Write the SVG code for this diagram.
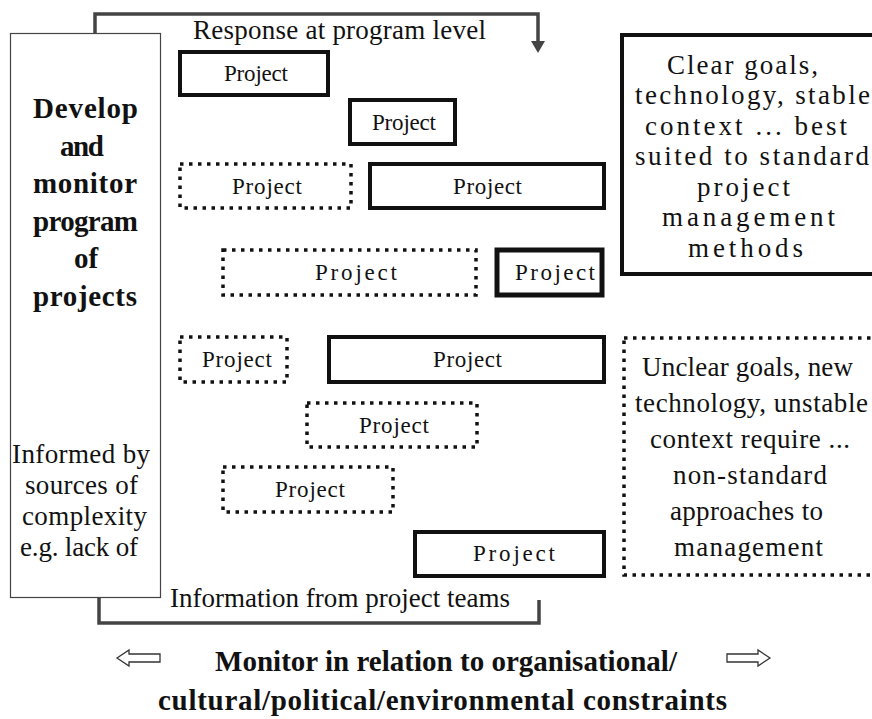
<svg xmlns="http://www.w3.org/2000/svg" width="872" height="719" viewBox="0 0 872 719">
<defs>
<style>
.t{font-family:"Liberation Serif",serif;font-size:27px;fill:#111}
.p{font-family:"Liberation Serif",serif;font-size:23px;fill:#111}
.b{font-family:"Liberation Serif",serif;font-size:29px;font-weight:bold;fill:#111}
.bb{font-family:"Liberation Serif",serif;font-size:29px;font-weight:bold;fill:#111}
.solid{fill:#fff;stroke:#111;stroke-width:4}
.dot{fill:#fff;stroke:#111;stroke-width:3.5;stroke-dasharray:3.5 5.5}
.conn{fill:none;stroke:#444;stroke-width:3.5}
.hollow{fill:#fff;stroke:#333;stroke-width:1.3}
</style>
<marker id="ah" markerUnits="userSpaceOnUse" markerWidth="14" markerHeight="14" refX="1" refY="7" orient="auto">
<path d="M0,0 L12,7 L0,14 z" fill="#444"/>
</marker>
</defs>
<rect width="872" height="719" fill="#fff"/>

<g id="connectors">
<path class="conn" d="M95,33 V14 H538 V42" marker-end="url(#ah)"/>
<path class="conn" d="M539,600 V623 H99 V597" marker-end="url(#ah)"/>
</g>

<g id="program">
<rect x="10.5" y="33.5" width="150" height="564" fill="#fff" stroke="#444" stroke-width="1.2"/>
<text class="b" x="33" y="118" textLength="105">Develop</text>
<text class="b" x="60" y="156" textLength="44">and</text>
<text class="b" x="33" y="193" textLength="104">monitor</text>
<text class="b" x="33" y="231" textLength="105">program</text>
<text class="b" x="74" y="268">of</text>
<text class="b" x="33" y="306" textLength="104">projects</text>
<text class="t" x="12" y="463" textLength="138">Informed by</text>
<text class="t" x="25" y="494" textLength="113">sources of</text>
<text class="t" x="22" y="525" textLength="125">complexity</text>
<text class="t" x="20" y="556" textLength="118">e.g. lack of</text>
</g>

<g id="label-response">
<text class="t" x="193" y="39" textLength="293">Response at program level</text>
</g>
<g id="label-information">
<text class="t" x="170" y="607" textLength="340">Information from project teams</text>
</g>

<g id="project1"><rect class="solid" x="180" y="52" width="148" height="43"/><text class="p" x="224" y="81" textLength="64">Project</text></g>
<g id="project2"><rect class="solid" x="350" y="100" width="105" height="44"/><text class="p" x="372" y="130" textLength="64">Project</text></g>
<g id="project3"><rect class="dot" x="180" y="164" width="171" height="44"/><text class="p" x="232" y="194" textLength="70">Project</text></g>
<g id="project4"><rect class="solid" x="370" y="164" width="234" height="44"/><text class="p" x="453" y="194" textLength="69">Project</text></g>
<g id="project5"><rect class="dot" x="223" y="250" width="253" height="45"/><text class="p" x="315" y="280" textLength="82">Project</text></g>
<g id="project6"><rect class="solid" x="497" y="250" width="105" height="45" style="stroke-width:5"/><text class="p" x="515" y="280" textLength="80">Project</text></g>
<g id="project7"><rect class="dot" x="180" y="337" width="107" height="45"/><text class="p" x="202" y="367" textLength="70">Project</text></g>
<g id="project8"><rect class="solid" x="329" y="337" width="275" height="45"/><text class="p" x="433" y="367" textLength="69">Project</text></g>
<g id="project9"><rect class="dot" x="307" y="403" width="170" height="44"/><text class="p" x="359" y="433" textLength="70">Project</text></g>
<g id="project10"><rect class="dot" x="223" y="467" width="170" height="45"/><text class="p" x="275" y="497" textLength="70">Project</text></g>
<g id="project11"><rect class="solid" x="415" y="532" width="189" height="44"/><text class="p" x="473" y="561" textLength="82">Project</text></g>

<g id="clear-box">
<rect x="622" y="35" width="270" height="239" fill="#fff" stroke="#111" stroke-width="4"/>
<text class="t" x="667" y="74" textLength="151">Clear goals,</text>
<text class="t" x="635" y="104" textLength="235">technology, stable</text>
<text class="t" x="645" y="135" textLength="202">context ... best</text>
<text class="t" x="635" y="165" textLength="234">suited to standard</text>
<text class="t" x="697" y="196" textLength="93">project</text>
<text class="t" x="662" y="226" textLength="173">management</text>
<text class="t" x="688" y="257" textLength="115">methods</text>
</g>

<g id="unclear-box">
<rect x="624" y="338" width="270" height="237" fill="#fff" stroke="#111" stroke-width="3.5" stroke-dasharray="3.5 5.5"/>
<text class="t" x="642" y="376" textLength="211">Unclear goals, new</text>
<text class="t" x="635" y="412" textLength="233">technology, unstable</text>
<text class="t" x="650" y="448" textLength="200">context require ...</text>
<text class="t" x="673" y="484" textLength="154">non-standard</text>
<text class="t" x="670" y="520" textLength="153">approaches to</text>
<text class="t" x="674" y="556" textLength="149">management</text>
</g>

<g id="constraints">
<polygon class="hollow" points="117,658 129,650 129,654 160,654 160,662 129,662 129,666"/>
<polygon class="hollow" points="770,658 758,650 758,654 727,654 727,662 758,662 758,666"/>
<text class="bb" x="215" y="671" textLength="462">Monitor in relation to organisational/</text>
<text class="bb" x="158" y="710" textLength="569">cultural/political/environmental constraints</text>
</g>
</svg>
